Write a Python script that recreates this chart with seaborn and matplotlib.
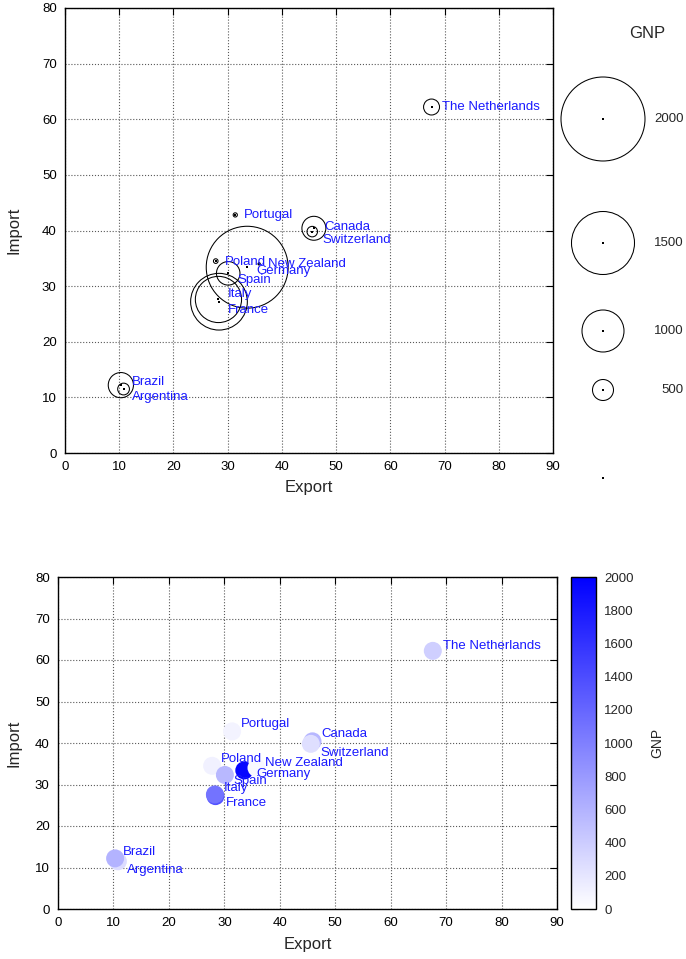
import numpy as np
import pandas as pd
import matplotlib
matplotlib.use("Agg")
import matplotlib.pyplot as plt
import seaborn as sns
from matplotlib.colors import LinearSegmentedColormap, Normalize
from matplotlib.cm import ScalarMappable

# data (drawing order matters for overlaps)
countries = ["The Netherlands", "Portugal", "Canada", "Switzerland", "Poland", "Germany",
             "New Zealand", "Spain", "France", "Italy", "Argentina", "Brazil"]
export = [67.6, 31.4, 45.9, 45.6, 27.8, 33.6, 35.8, 30.1, 28.4, 28.3, 10.8, 10.3]
imports = [62.2, 42.8, 40.4, 39.8, 34.5, 33.4, 34.0, 32.3, 27.2, 27.6, 11.5, 12.2]
gnp = [380, 100, 570, 250, 110, 1950, 55, 560, 1350, 1100, 280, 600]

legend_gnp = [2000, 1500, 1000, 500, 0]
cbar_ticks = list(range(0, 2001, 200))

df = pd.DataFrame({"Country": countries, "Export": export, "Import": imports, "GNP": gnp})

# label offsets in pixels (dx, dy down) for each panel
off_top = {"The Netherlands": (10, 0), "Portugal": (9, 0), "Canada": (10, -1),
           "Switzerland": (10, 8), "Poland": (9, 1), "New Zealand": (9, 0),
           "Germany": (9, 4), "Spain": (9, 7), "Italy": (9, -5), "France": (9, 8),
           "Brazil": (11, -3), "Argentina": (8, 8)}
off_bot = {"The Netherlands": (10, -5), "Portugal": (9, -7), "Canada": (9, -7),
           "Switzerland": (10, 9), "Poland": (9, -7), "New Zealand": (9, -5),
           "Germany": (12, 4), "Spain": (9, 6), "Italy": (9, -6), "France": (10, 7),
           "Brazil": (8, -6), "Argentina": (9, 9)}

sns.set_style("white")
plt.rcParams["font.family"] = ["Liberation Sans", "DejaVu Sans"]

W, H = 686, 959
PT = 0.72  # points per pixel at dpi 100
fig = plt.figure(figsize=(W / 100, H / 100), dpi=100)

def px_axes(x0, y0, x1, y1):
    return fig.add_axes([x0 / W, 1 - y1 / H, (x1 - x0) / W, (y1 - y0) / H])

ax1 = px_axes(65, 8, 553, 453)
ax2 = px_axes(58, 577, 557, 909)
cax = px_axes(571, 577, 596, 909)

def bubble_area(v):
    # radius grows linearly with GNP (about 0.021 px per unit)
    return (2 * 0.021 * np.asarray(v, dtype=float) * PT) ** 2

def style_axes(ax, xlab_y, ylab_x=14):
    ax.set_xlim(0, 90)
    ax.set_ylim(0, 80)
    ax.set_xticks(range(0, 91, 10))
    ax.set_yticks(range(0, 81, 10))
    ax.grid(True, linestyle=":", color="0.35", linewidth=0.8)
    ax.set_axisbelow(True)
    ax.tick_params(direction="in", length=5, width=0.8, top=True, right=True,
                   labelsize=9.5, colors="black", pad=6)
    for s in ax.spines.values():
        s.set_color("black")
        s.set_linewidth(1.0)
    ax.set_xlabel("Export", fontsize=12)
    ax.set_ylabel("Import", fontsize=12)
    # place axis titles at fixed pixel spots like the reference
    bb = ax.get_position()
    ax.yaxis.set_label_coords(ylab_x / W, (bb.y0 + bb.y1) / 2, transform=fig.transFigure)
    ax.xaxis.set_label_coords((bb.x0 + bb.x1) / 2, 1 - xlab_y / H, transform=fig.transFigure)
    ax.xaxis.label.set_va("center")
    ax.yaxis.label.set_va("center")

def add_labels(ax, offs):
    for c, x, y in zip(countries, export, imports):
        dx, dy = offs[c]
        ax.annotate(c, (x, y), xytext=(dx * PT, -dy * PT), textcoords="offset points",
                    ha="left", va="center", color="#1a1aff", fontsize=9.5, zorder=5)

# top: bubble chart
sns.scatterplot(data=df, x="Export", y="Import", s=bubble_area(df["GNP"]),
                facecolor="none", edgecolor="black", linewidth=0.75, ax=ax1, zorder=3)
ax1.scatter(df["Export"], df["Import"], s=1.2, color="black", marker="s", linewidths=0, zorder=4)
style_axes(ax1, 487)
add_labels(ax1, off_top)

# size key on the right of the top panel
lax = fig.add_axes([0, 0, 1, 1])
lax.set_xlim(0, W)
lax.set_ylim(H, 0)
lax.axis("off")
key_y = [119, 243, 331, 390, 478]
key_df = pd.DataFrame({"x": [603] * len(legend_gnp), "y": key_y, "GNP": legend_gnp})
sns.scatterplot(data=key_df, x="x", y="y", s=bubble_area(key_df["GNP"]),
                facecolor="none", edgecolor="black", linewidth=0.75, ax=lax)
lax.scatter(key_df["x"], key_df["y"], s=1.2, color="black", marker="s", linewidths=0)
for v, y in zip(legend_gnp[:-1], key_y[:-1]):
    lax.text(684, y, str(v), ha="right", va="center", fontsize=9.5)
lax.text(647, 33, "GNP", ha="center", va="center", fontsize=12)

# bottom: colour-coded points
cmap = LinearSegmentedColormap.from_list("wb", ["#ffffff", "#0000ff"])
norm = Normalize(0, 2000)
sns.scatterplot(data=df, x="Export", y="Import", hue="GNP", palette=cmap, hue_norm=norm,
                s=(18 * PT) ** 2, edgecolor="none", linewidth=0, legend=False, ax=ax2, zorder=3)
style_axes(ax2, 945)
add_labels(ax2, off_bot)

cb = fig.colorbar(ScalarMappable(norm=norm, cmap=cmap), cax=cax)
cb.set_ticks(cbar_ticks)
cb.outline.set_edgecolor("black")
cb.outline.set_linewidth(1.0)
cax.tick_params(direction="in", left=True, right=True, length=5, width=0.8,
                labelsize=9.5, pad=6, color="0.2")
cb.set_label("GNP", fontsize=10, labelpad=12)

fig.savefig("out.png", dpi=100)
